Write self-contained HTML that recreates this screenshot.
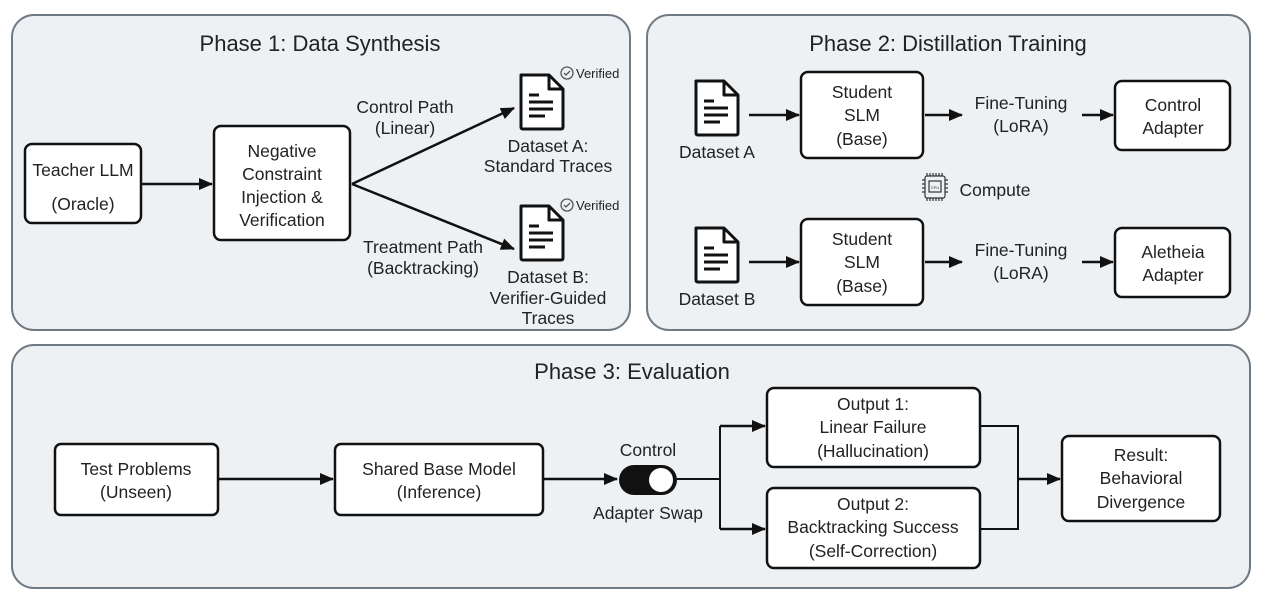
<!DOCTYPE html>
<html><head><meta charset="utf-8"><style>
html,body{margin:0;padding:0;background:#fff;}
svg{display:block;font-family:"Liberation Sans",sans-serif;}
</style></head><body>
<svg width="1265" height="602" viewBox="0 0 1265 602" xmlns="http://www.w3.org/2000/svg">
<defs>
<marker id="ah" markerWidth="14" markerHeight="14" refX="13" refY="7" orient="auto" markerUnits="userSpaceOnUse"><path d="M0,1 L14,7 L0,13 z" fill="#111"/></marker>
<g id="doc">
<path d="M2,2 H30 L44,16 V54 Q44,56 42,56 H4 Q2,56 2,54 Z" fill="#fff" stroke="#111" stroke-width="3" stroke-linejoin="round"/>
<path d="M30,2 V16 H44" fill="none" stroke="#111" stroke-width="3" stroke-linejoin="round"/>
<path d="M10,22 H20 M10,29 H34 M10,36 H34 M10,43 H26" stroke="#111" stroke-width="3"/>
</g>
</defs>
<g fill="#eef1f4" stroke="#707a84" stroke-width="2">
<rect x="12" y="15" width="618" height="315" rx="22"/>
<rect x="647" y="15" width="603" height="315" rx="22"/>
<rect x="12" y="345" width="1238" height="243" rx="22"/>
</g>
<g fill="#222" text-anchor="middle">
<text x="320" y="51" font-size="22">Phase 1: Data Synthesis</text>
<text x="948" y="51" font-size="22">Phase 2: Distillation Training</text>
<text x="632" y="379" font-size="22">Phase 3: Evaluation</text>
</g>
<g fill="#fff" stroke="#111" stroke-width="2.5">
<rect x="25" y="144" width="116" height="79" rx="7"/>
<rect x="214" y="126" width="136" height="114" rx="7"/>
<rect x="801" y="72" width="122" height="86" rx="7"/>
<rect x="1115" y="81" width="115" height="69" rx="7"/>
<rect x="801" y="219" width="122" height="86" rx="7"/>
<rect x="1115" y="228" width="115" height="69" rx="7"/>
<rect x="55" y="444" width="163" height="71" rx="6"/>
<rect x="335" y="444" width="208" height="71" rx="6"/>
<rect x="767" y="388" width="213" height="79" rx="7"/>
<rect x="767" y="488" width="213" height="80" rx="7"/>
<rect x="1062" y="436" width="158" height="85" rx="7"/>
</g>
<use href="#doc" x="519" y="73"/>
<use href="#doc" x="519" y="204"/>
<use href="#doc" x="694" y="79"/>
<use href="#doc" x="694" y="226"/>
<g fill="none" stroke="#555" stroke-width="1.3">
<circle cx="567" cy="73" r="6"/><path d="M564,73 l2,2 l4,-4"/>
<circle cx="567" cy="205" r="6"/><path d="M564,205 l2,2 l4,-4"/>
</g>
<g fill="#222" font-size="13">
<text x="576" y="78">Verified</text>
<text x="576" y="210">Verified</text>
</g>
<g stroke="#333" fill="none" stroke-width="1.2">
<rect x="925" y="176" width="20" height="22" rx="2"/>
<rect x="929" y="181" width="12" height="11"/>
<path d="M927,176v-3 M930,176v-3 M933,176v-3 M936,176v-3 M939,176v-3 M942,176v-3 M927,198v3 M930,198v3 M933,198v3 M936,198v3 M939,198v3 M942,198v3 M925,180h-3 M925,184h-3 M925,188h-3 M925,192h-3 M945,180h3 M945,184h3 M945,188h3 M945,192h3"/>
</g>
<text x="935" y="189" font-size="4" text-anchor="middle" fill="#333">CPU</text>
<g stroke="#111" stroke-width="2.5" fill="none" marker-end="url(#ah)">
<path d="M141,184 H212"/>
<path d="M352,184 L514,108"/>
<path d="M352,184 L514,249"/>
<path d="M749,115 H799"/>
<path d="M925,115 H962"/>
<path d="M1082,115 H1113"/>
<path d="M749,262 H799"/>
<path d="M925,262 H962"/>
<path d="M1082,262 H1113"/>
<path d="M218,479 H333"/>
<path d="M543,479 H617"/>
<path d="M720,426 H765"/>
<path d="M720,529 H765"/>
<path d="M1018,479 H1060"/>
</g>
<path d="M677,479 H720 M720,426 V529 M980,426 H1018 V529 H980" stroke="#111" stroke-width="2" fill="none"/>
<rect x="619" y="465" width="58" height="30" rx="15" fill="#111"/>
<circle cx="661" cy="480" r="12" fill="#fff"/>
<g fill="#222" font-size="17.5" text-anchor="middle">
<text x="83" y="176">Teacher LLM</text>
<text x="83" y="210">(Oracle)</text>
<text x="282" y="157">Negative</text>
<text x="282" y="180">Constraint</text>
<text x="282" y="203">Injection &amp;</text>
<text x="282" y="226">Verification</text>
<text x="405" y="113">Control Path</text>
<text x="405" y="134">(Linear)</text>
<text x="423" y="253">Treatment Path</text>
<text x="423" y="274">(Backtracking)</text>
<text x="548" y="152">Dataset A:</text>
<text x="548" y="172">Standard Traces</text>
<text x="548" y="283">Dataset B:</text>
<text x="548" y="304">Verifier-Guided</text>
<text x="548" y="324">Traces</text>
<text x="717" y="158">Dataset A</text>
<text x="717" y="305">Dataset B</text>
<text x="862" y="98">Student</text>
<text x="862" y="121">SLM</text>
<text x="862" y="145">(Base)</text>
<text x="862" y="245">Student</text>
<text x="862" y="268">SLM</text>
<text x="862" y="292">(Base)</text>
<text x="1021" y="109">Fine-Tuning</text>
<text x="1021" y="132">(LoRA)</text>
<text x="1021" y="256">Fine-Tuning</text>
<text x="1021" y="279">(LoRA)</text>
<text x="1173" y="111">Control</text>
<text x="1173" y="134">Adapter</text>
<text x="1173" y="258">Aletheia</text>
<text x="1173" y="281">Adapter</text>
<text x="995" y="196">Compute</text>
<text x="136" y="475">Test Problems</text>
<text x="136" y="498">(Unseen)</text>
<text x="439" y="475">Shared Base Model</text>
<text x="439" y="498">(Inference)</text>
<text x="648" y="456">Control</text>
<text x="648" y="519">Adapter Swap</text>
<text x="873" y="410">Output 1:</text>
<text x="873" y="433">Linear Failure</text>
<text x="873" y="457">(Hallucination)</text>
<text x="873" y="510">Output 2:</text>
<text x="873" y="533">Backtracking Success</text>
<text x="873" y="557">(Self-Correction)</text>
<text x="1141" y="461">Result:</text>
<text x="1141" y="484">Behavioral</text>
<text x="1141" y="508">Divergence</text>
</g>
</svg>
</body></html>
